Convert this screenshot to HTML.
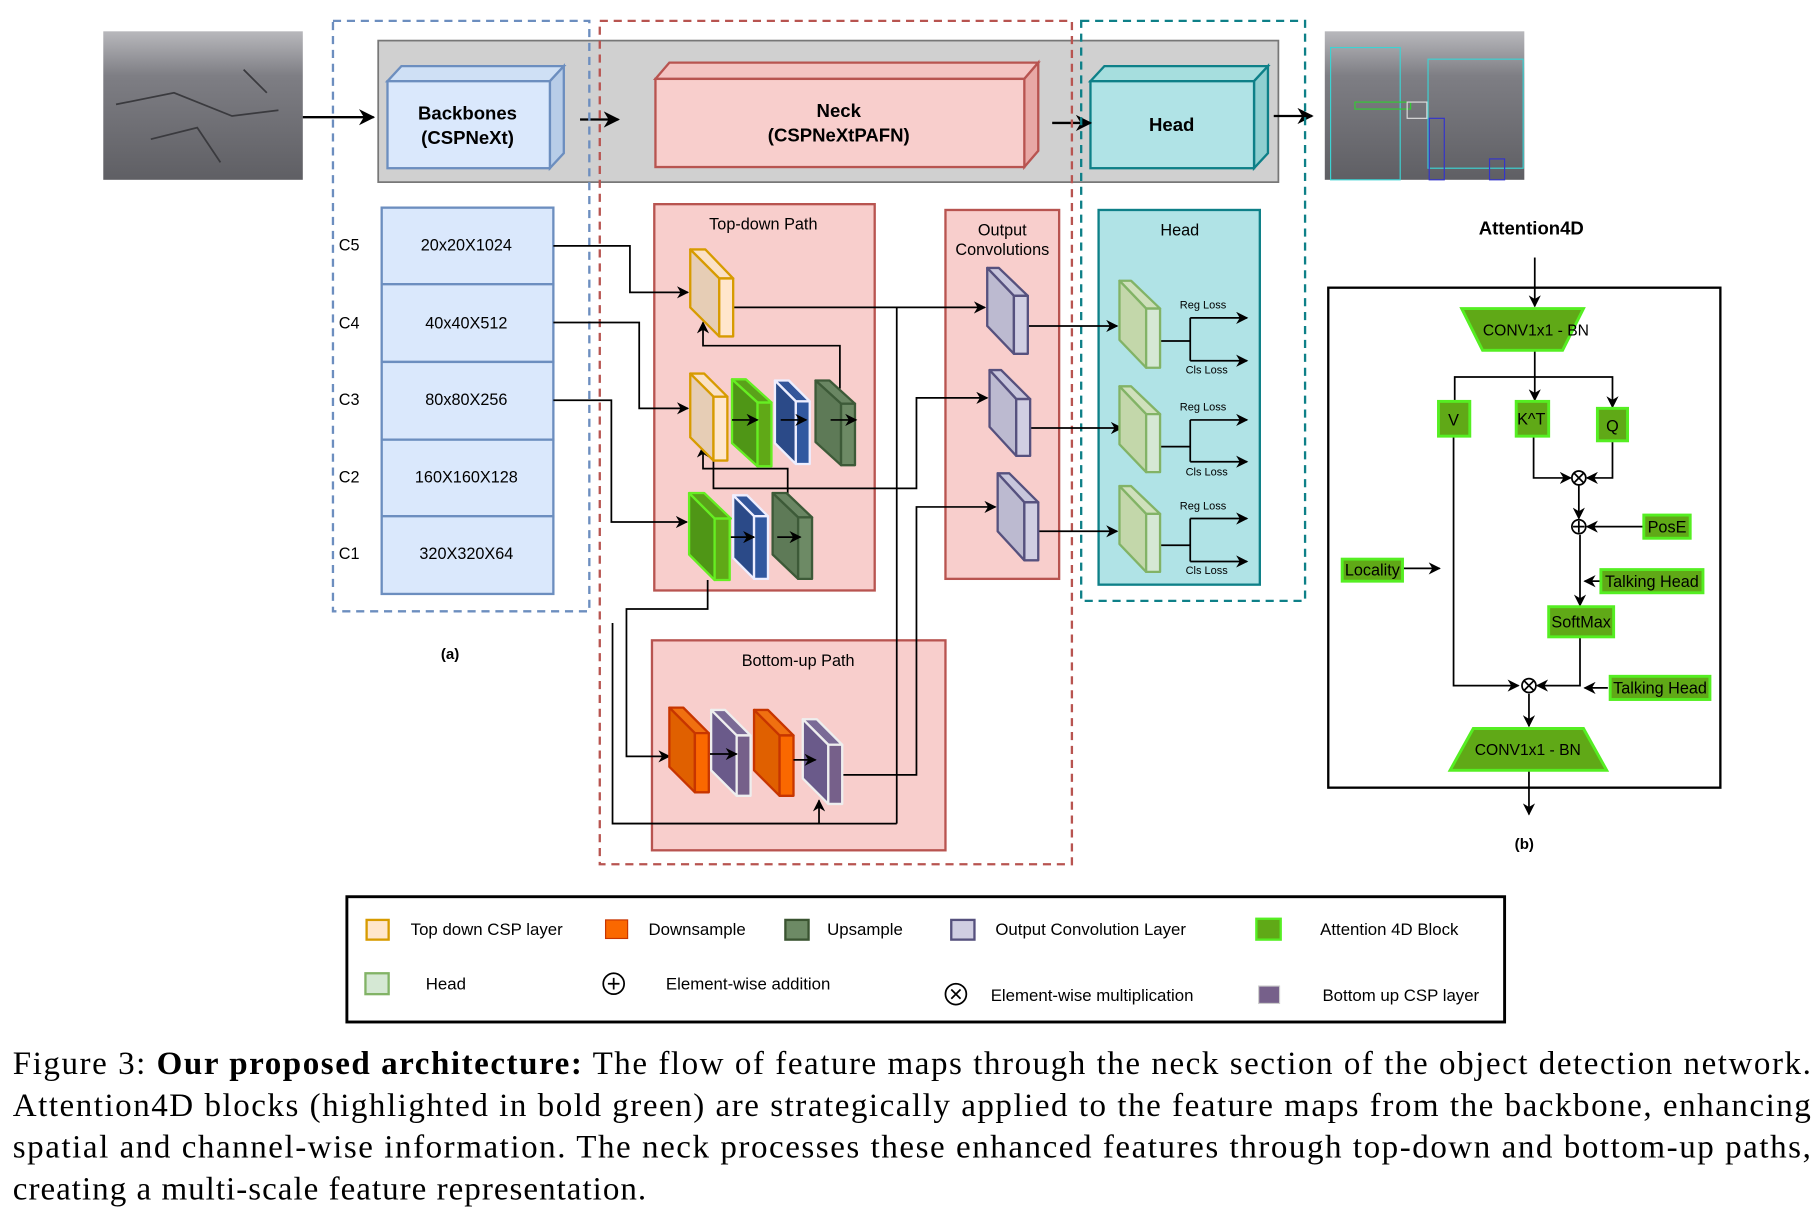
<!DOCTYPE html>
<html><head><meta charset="utf-8"><style>
html,body{margin:0;padding:0;background:#fff}
svg{display:block}
text{font-family:"Liberation Sans",sans-serif}
text.cap{font-family:"Liberation Serif",serif;font-size:28.5px}
</style></head><body>
<svg width="1819" height="1225" viewBox="0 0 1568 1056" xmlns="http://www.w3.org/2000/svg">
<defs>
<marker id="a" viewBox="0 0 10 10" refX="9" refY="5" markerWidth="7" markerHeight="7" orient="auto-start-reverse"><path d="M0,0 L10,5 L0,10 L3,5 z" fill="#000"/></marker>
<linearGradient id="road" x1="0" y1="0" x2="0" y2="1"><stop offset="0" stop-color="#b8b8bc"/><stop offset="0.3" stop-color="#7e7e84"/><stop offset="1" stop-color="#5f5f64"/></linearGradient>
</defs>
<rect x="89" y="27" width="172" height="128" fill="url(#road)"/>
<path d="M100,90 L150,80 L200,100 L240,95 M130,120 L170,110 L190,140 M210,60 L230,80" stroke="#3a3a3e" stroke-width="1.5" fill="none"/>
<rect x="1142" y="27" width="172" height="128" fill="url(#road)"/>
<rect x="1147" y="41" width="60" height="114" fill="none" stroke="#3cd3d3"/>
<rect x="1231" y="51" width="82" height="94" fill="none" stroke="#3cd3d3"/>
<rect x="1168" y="88" width="48" height="6" fill="none" stroke="#3c3"/>
<rect x="1232" y="102" width="13" height="53" fill="none" stroke="#33c"/>
<rect x="1284" y="137" width="13" height="18" fill="none" stroke="#33c"/>
<rect x="1213" y="88" width="17" height="14" fill="none" stroke="#ddd"/>

<rect x="326" y="35" width="776" height="122" fill="#d0d0d0" stroke="#777" stroke-width="1.5"/>
<polygon points="334,70 346,57 486,57 474,70" fill="#cfe0f5" stroke="#6c8ebf" stroke-width="2"/>
<polygon points="474,70 486,57 486,132 474,145" fill="#b8cde8" stroke="#6c8ebf" stroke-width="2"/>
<rect x="334" y="70" width="140" height="75" fill="#dae8fc" stroke="#6c8ebf" stroke-width="2"/>
<text x="403" y="103" font-size="16" font-weight="bold" text-anchor="middle">Backbones</text>
<text x="403" y="124" font-size="16" font-weight="bold" text-anchor="middle">(CSPNeXt)</text>
<polygon points="565,68 577,54 895,54 883,68" fill="#f4c4c2" stroke="#b85450" stroke-width="2"/>
<polygon points="883,68 895,54 895,130 883,144" fill="#e8a8a5" stroke="#b85450" stroke-width="2"/>
<rect x="565" y="68" width="318" height="76" fill="#f8cecc" stroke="#b85450" stroke-width="2"/>
<text x="723" y="101" font-size="16" font-weight="bold" text-anchor="middle">Neck</text>
<text x="723" y="122" font-size="16" font-weight="bold" text-anchor="middle">(CSPNeXtPAFN)</text>
<polygon points="940,70 952,57 1093,57 1081,70" fill="#a6dede" stroke="#0e8088" stroke-width="2"/>
<polygon points="1081,70 1093,57 1093,132 1081,145" fill="#8fcfd0" stroke="#0e8088" stroke-width="2"/>
<rect x="940" y="70" width="141" height="75" fill="#b0e3e6" stroke="#0e8088" stroke-width="2"/>
<text x="1010" y="113" font-size="16" font-weight="bold" text-anchor="middle">Head</text>
<g stroke="#000" stroke-width="2" marker-end="url(#a)">
<line x1="261" y1="101" x2="322" y2="101"/>
<line x1="500" y1="103" x2="533" y2="103"/>
<line x1="907" y1="106" x2="940" y2="106"/>
<line x1="1098" y1="100" x2="1131" y2="100"/>
</g>

<rect x="287" y="18" width="221" height="509" fill="none" stroke="#6c8ebf" stroke-width="2" stroke-dasharray="7,5"/>
<rect x="517" y="18" width="407" height="727" fill="none" stroke="#b85450" stroke-width="2" stroke-dasharray="7,5"/>
<rect x="932" y="18" width="193" height="500" fill="none" stroke="#0e8088" stroke-width="2" stroke-dasharray="7,5"/>

<g fill="#dae8fc" stroke="#6c8ebf" stroke-width="2">
<rect x="329" y="179" width="148" height="66"/>
<rect x="329" y="245" width="148" height="67"/>
<rect x="329" y="312" width="148" height="67"/>
<rect x="329" y="379" width="148" height="66"/>
<rect x="329" y="445" width="148" height="67"/>
</g>
<g font-size="14" text-anchor="middle">
<text x="402" y="216">20x20X1024</text>
<text x="402" y="283">40x40X512</text>
<text x="402" y="349">80x80X256</text>
<text x="402" y="416">160X160X128</text>
<text x="402" y="482">320X320X64</text>
</g>
<g font-size="14">
<text x="292" y="216">C5</text><text x="292" y="283">C4</text><text x="292" y="349">C3</text><text x="292" y="416">C2</text><text x="292" y="482">C1</text>
</g>
<text x="388" y="568" font-size="13" font-weight="bold" text-anchor="middle">(a)</text>

<rect x="564" y="176" width="190" height="333" fill="#f8cecc" stroke="#b85450" stroke-width="2"/>
<text x="658" y="198" font-size="14" text-anchor="middle">Top-down Path</text>
<rect x="815" y="181" width="98" height="318" fill="#f8cecc" stroke="#b85450" stroke-width="2"/>
<text x="864" y="203" font-size="14" text-anchor="middle">Output</text>
<text x="864" y="220" font-size="14" text-anchor="middle">Convolutions</text>
<rect x="562" y="552" width="253" height="181" fill="#f8cecc" stroke="#b85450" stroke-width="2"/>
<text x="688" y="574" font-size="14" text-anchor="middle">Bottom-up Path</text>
<rect x="947" y="181" width="139" height="323" fill="#b0e3e6" stroke="#0e8088" stroke-width="2"/>
<text x="1017" y="203" font-size="14" text-anchor="middle">Head</text>

<g stroke="#000" stroke-width="1.5" fill="none">
<polyline points="477,212 543,212 543,252 593,252" marker-end="url(#a)"/>
<polyline points="477,278 551,278 551,352 593,352" marker-end="url(#a)"/>
<polyline points="477,345 527,345 527,450 592,450" marker-end="url(#a)"/>
<polyline points="632,265 849,265" marker-end="url(#a)"/>
<polyline points="773,265 773,710"/>
<polyline points="724,335 724,298 606,298 606,278" marker-end="url(#a)"/>
<polyline points="679,430 679,404 606,404 606,385" marker-end="url(#a)"/>
<polyline points="615,395 615,421 790,421 790,343 851,343" marker-end="url(#a)"/>
<polyline points="610,500 610,525 540,525 540,652 577,652" marker-end="url(#a)"/>
<polyline points="773,710 528,710 528,537"/>
<polyline points="528,710 706,710 706,690" marker-end="url(#a)"/>
<polyline points="726,668 790,668 790,437 858,437" marker-end="url(#a)"/>
<polyline points="886,281 963,281" marker-end="url(#a)"/>
<polyline points="888,369 967,369" marker-end="url(#a)"/>
<polyline points="895,458 963,458" marker-end="url(#a)"/>
<polyline points="999,294 1026,294"/><polyline points="1026,274 1026,311"/>
<polyline points="1026,274 1075,274" marker-end="url(#a)"/><polyline points="1026,311 1075,311" marker-end="url(#a)"/>
<polyline points="1000,385 1026,385"/><polyline points="1026,362 1026,398"/>
<polyline points="1026,362 1075,362" marker-end="url(#a)"/><polyline points="1026,398 1075,398" marker-end="url(#a)"/>
<polyline points="1000,470 1026,470"/><polyline points="1026,447 1026,484"/>
<polyline points="1026,447 1075,447" marker-end="url(#a)"/><polyline points="1026,484 1075,484" marker-end="url(#a)"/>
</g>
<g font-size="9.5">
<text x="1017" y="266">Reg Loss</text><text x="1022" y="322">Cls Loss</text>
<text x="1017" y="354">Reg Loss</text><text x="1022" y="410">Cls Loss</text>
<text x="1017" y="439">Reg Loss</text><text x="1022" y="495">Cls Loss</text>
</g>

<g stroke-width="2" stroke-linejoin="round">
<g stroke="#d79b00"><polygon points="595,215 608,215 632,240 620,240" fill="#fbe1c5"/><polygon points="595,215 620,240 620,290 595,265" fill="#e6cdb5"/><rect x="620" y="240" width="12" height="50" fill="#ffe6cc"/></g>
<g stroke="#d79b00"><polygon points="595,322 607,322 627,342 615,342" fill="#fbe1c5"/><polygon points="595,322 615,342 615,397 595,377" fill="#e6cdb5"/><rect x="615" y="342" width="12" height="55" fill="#ffe6cc"/></g>
<g stroke="#66ee22"><polygon points="631,327 643,327 665,347 653,347" fill="#5aa21a"/><polygon points="631,327 653,347 653,402 631,382" fill="#4f9616"/><rect x="653" y="347" width="12" height="55" fill="#60a917"/></g>
<g stroke="#66ee22"><polygon points="594,425 607,425 630,447 616,447" fill="#5aa21a"/><polygon points="594,425 616,447 616,500 594,478" fill="#4f9616"/><rect x="616" y="447" width="13" height="53" fill="#60a917"/></g>
<g stroke="#eef"><polygon points="668,328 680,328 698,346 686,346" fill="#33559a"/><polygon points="668,328 686,346 686,400 668,382" fill="#2b4a88"/><rect x="686" y="346" width="12" height="54" fill="#3158a0"/></g>
<g stroke="#eef"><polygon points="632,427 644,427 662,445 650,445" fill="#33559a"/><polygon points="632,427 650,445 650,499 632,481" fill="#2b4a88"/><rect x="650" y="445" width="12" height="54" fill="#3158a0"/></g>
<g stroke="#3d5a38"><polygon points="703,328 715,328 737,348 725,348" fill="#6a8663"/><polygon points="703,328 725,348 725,401 703,381" fill="#5e7a57"/><rect x="725" y="348" width="12" height="53" fill="#6d8a65"/></g>
<g stroke="#3d5a38"><polygon points="666,425 678,425 700,446 688,446" fill="#6a8663"/><polygon points="666,425 688,446 688,499 666,478" fill="#5e7a57"/><rect x="688" y="446" width="12" height="53" fill="#6d8a65"/></g>
<g stroke="#56517e"><polygon points="851,231 861,231 886,255 874,255" fill="#c8c6dc"/><polygon points="851,231 874,255 874,305 851,281" fill="#bcbad0"/><rect x="874" y="255" width="12" height="50" fill="#d0cee2"/></g>
<g stroke="#56517e"><polygon points="853,319 863,319 888,344 876,344" fill="#c8c6dc"/><polygon points="853,319 876,344 876,393 853,368" fill="#bcbad0"/><rect x="876" y="344" width="12" height="49" fill="#d0cee2"/></g>
<g stroke="#56517e"><polygon points="860,408 870,408 895,433 883,433" fill="#c8c6dc"/><polygon points="860,408 883,433 883,483 860,458" fill="#bcbad0"/><rect x="883" y="433" width="12" height="50" fill="#d0cee2"/></g>
<g stroke="#82b366"><polygon points="965,242 975,242 1000,266 988,266" fill="#cfe0bb"/><polygon points="965,242 988,266 988,317 965,293" fill="#c3d7aa"/><rect x="988" y="266" width="12" height="51" fill="#d5e8d4"/></g>
<g stroke="#82b366"><polygon points="965,333 975,333 1000,357 988,357" fill="#cfe0bb"/><polygon points="965,333 988,357 988,407 965,383" fill="#c3d7aa"/><rect x="988" y="357" width="12" height="50" fill="#d5e8d4"/></g>
<g stroke="#82b366"><polygon points="965,419 975,419 1000,443 988,443" fill="#cfe0bb"/><polygon points="965,419 988,443 988,493 965,469" fill="#c3d7aa"/><rect x="988" y="443" width="12" height="50" fill="#d5e8d4"/></g>
<g stroke="#c73500"><polygon points="577,610 589,610 611,632 599,632" fill="#f07010"/><polygon points="577,610 599,632 599,683 577,661" fill="#e06000"/><rect x="599" y="632" width="12" height="51" fill="#fa6800"/></g>
<g stroke="#eee"><polygon points="613,612 625,612 647,634 635,634" fill="#7a6a96"/><polygon points="613,612 635,634 635,686 613,664" fill="#6a5a8a"/><rect x="635" y="634" width="12" height="52" fill="#76608a"/></g>
<g stroke="#c73500"><polygon points="650,612 662,612 684,634 672,634" fill="#f07010"/><polygon points="650,612 672,634 672,686 650,664" fill="#e06000"/><rect x="672" y="634" width="12" height="52" fill="#fa6800"/></g>
<g stroke="#eee"><polygon points="692,620 704,620 726,642 714,642" fill="#7a6a96"/><polygon points="692,620 714,642 714,693 692,671" fill="#6a5a8a"/><rect x="714" y="642" width="12" height="51" fill="#76608a"/></g>
</g>
<g stroke="#000" stroke-width="1.5" marker-end="url(#a)">
<line x1="631" y1="362" x2="653" y2="362"/><line x1="673" y1="362" x2="695" y2="362"/><line x1="716" y1="362" x2="738" y2="362"/>
<line x1="630" y1="463" x2="650" y2="463"/><line x1="670" y1="463" x2="690" y2="463"/>
<line x1="612" y1="650" x2="635" y2="650"/><line x1="684" y1="655" x2="703" y2="655"/>
</g>

<text x="1320" y="202" font-size="16" font-weight="bold" text-anchor="middle">Attention4D</text>
<rect x="1145" y="248" width="338" height="431" fill="#fff" stroke="#000" stroke-width="2"/>
<g stroke="#000" stroke-width="1.5" fill="none">
<line x1="1323" y1="222" x2="1323" y2="264" marker-end="url(#a)"/>
<line x1="1323" y1="302" x2="1323" y2="345" marker-end="url(#a)"/>
<polyline points="1254,346 1254,325 1390,325 1390,351" marker-end="url(#a)"/>
<polyline points="1253,376 1253,591 1309,591" marker-end="url(#a)"/>
<polyline points="1322,376 1322,412 1354,412" marker-end="url(#a)"/>
<polyline points="1390,380 1390,412 1368,412" marker-end="url(#a)"/>
<line x1="1361" y1="418" x2="1361" y2="447" marker-end="url(#a)"/>
<line x1="1417" y1="454" x2="1368" y2="454" marker-end="url(#a)"/>
<line x1="1362" y1="461" x2="1362" y2="522" marker-end="url(#a)"/>
<line x1="1380" y1="501" x2="1366" y2="501" marker-end="url(#a)"/>
<line x1="1209" y1="490" x2="1241" y2="490" marker-end="url(#a)"/>
<polyline points="1362,549 1362,591 1325,591" marker-end="url(#a)"/>
<line x1="1386" y1="593" x2="1366" y2="593" marker-end="url(#a)"/>
<line x1="1318" y1="598" x2="1318" y2="626" marker-end="url(#a)"/>
<line x1="1318" y1="665" x2="1318" y2="702" marker-end="url(#a)"/>
<circle cx="1361" cy="412" r="6" fill="#fff"/><path d="M1357,408 L1365,416 M1365,408 L1357,416"/>
<circle cx="1361" cy="454" r="6" fill="#fff"/><path d="M1356,454 L1366,454 M1361,449 L1361,459"/>
<circle cx="1318" cy="591" r="6" fill="#fff"/><path d="M1314,587 L1322,595 M1322,587 L1314,595"/>
</g>
<g fill="#60a917" stroke="#55ee22" stroke-width="2.5">
<polygon points="1260,266 1365,266 1347,302 1278,302"/>
<polygon points="1270,628 1365,628 1385,664 1250,664"/>
<rect x="1240" y="346" width="27" height="30"/>
<rect x="1307" y="346" width="28" height="30"/>
<rect x="1377" y="352" width="26" height="28"/>
<rect x="1417" y="444" width="40" height="20"/>
<rect x="1380" y="491" width="88" height="20"/>
<rect x="1335" y="523" width="56" height="26"/>
<rect x="1388" y="583" width="86" height="20"/>
<rect x="1157" y="482" width="52" height="19"/>
</g>
<g font-size="14" text-anchor="middle">
<text x="1324" y="289" font-size="13.5">CONV1x1 - BN</text>
<text x="1317" y="651" font-size="13.5">CONV1x1 - BN</text>
<text x="1253" y="367">V</text><text x="1320" y="366">K^T</text><text x="1390" y="372">Q</text>
<text x="1437" y="459">PosE</text><text x="1424" y="506">Talking Head</text>
<text x="1363" y="541">SoftMax</text><text x="1431" y="598">Talking Head</text>
<text x="1183" y="496">Locality</text>
</g>
<text x="1314" y="732" font-size="13" font-weight="bold" text-anchor="middle">(b)</text>

<rect x="299" y="773" width="998" height="108" fill="#fff" stroke="#000" stroke-width="2.5"/>
<rect x="316" y="793" width="19" height="17" fill="#ffe6cc" stroke="#d79b00" stroke-width="2"/>
<rect x="522" y="793" width="19" height="16" fill="#fa6800" stroke="#c73500"/>
<rect x="677" y="793" width="20" height="17" fill="#6d8a65" stroke="#3a5431" stroke-width="2"/>
<rect x="820" y="793" width="20" height="17" fill="#d0cee2" stroke="#56517e" stroke-width="2"/>
<rect x="1083" y="792" width="21" height="18" fill="#60a917" stroke="#55ee22" stroke-width="2"/>
<rect x="315" y="839" width="20" height="18" fill="#d5e8d4" stroke="#82b366" stroke-width="2"/>
<circle cx="529" cy="848" r="9" fill="none" stroke="#000" stroke-width="1.5"/><path d="M524,848 L534,848 M529,843 L529,853" stroke="#000" stroke-width="1.5"/>
<circle cx="824" cy="857" r="9" fill="none" stroke="#000" stroke-width="1.5"/><path d="M820,853 L828,861 M828,853 L820,861" stroke="#000" stroke-width="1.5"/>
<rect x="1085" y="850" width="18" height="15" fill="#76608a" stroke="#ccc"/>
<g font-size="14.5">
<text x="354" y="806">Top down CSP layer</text>
<text x="559" y="806">Downsample</text>
<text x="713" y="806">Upsample</text>
<text x="858" y="806">Output Convolution Layer</text>
<text x="1138" y="806">Attention 4D Block</text>
<text x="367" y="853">Head</text>
<text x="574" y="853">Element-wise addition</text>
<text x="854" y="863">Element-wise multiplication</text>
<text x="1140" y="863">Bottom up CSP layer</text>
</g>

<text class="cap" x="11" y="926" textLength="1550" lengthAdjust="spacing">Figure 3: <tspan font-weight="bold">Our proposed architecture:</tspan> The flow of feature maps through the neck section of the object detection network.</text>
<text class="cap" x="11" y="962" textLength="1550" lengthAdjust="spacing">Attention4D blocks (highlighted in bold green) are strategically applied to the feature maps from the backbone, enhancing</text>
<text class="cap" x="11" y="998" textLength="1550" lengthAdjust="spacing">spatial and channel-wise information. The neck processes these enhanced features through top-down and bottom-up paths,</text>
<text class="cap" x="11" y="1034" textLength="546" lengthAdjust="spacing">creating a multi-scale feature representation.</text>
</svg>
</body></html>
